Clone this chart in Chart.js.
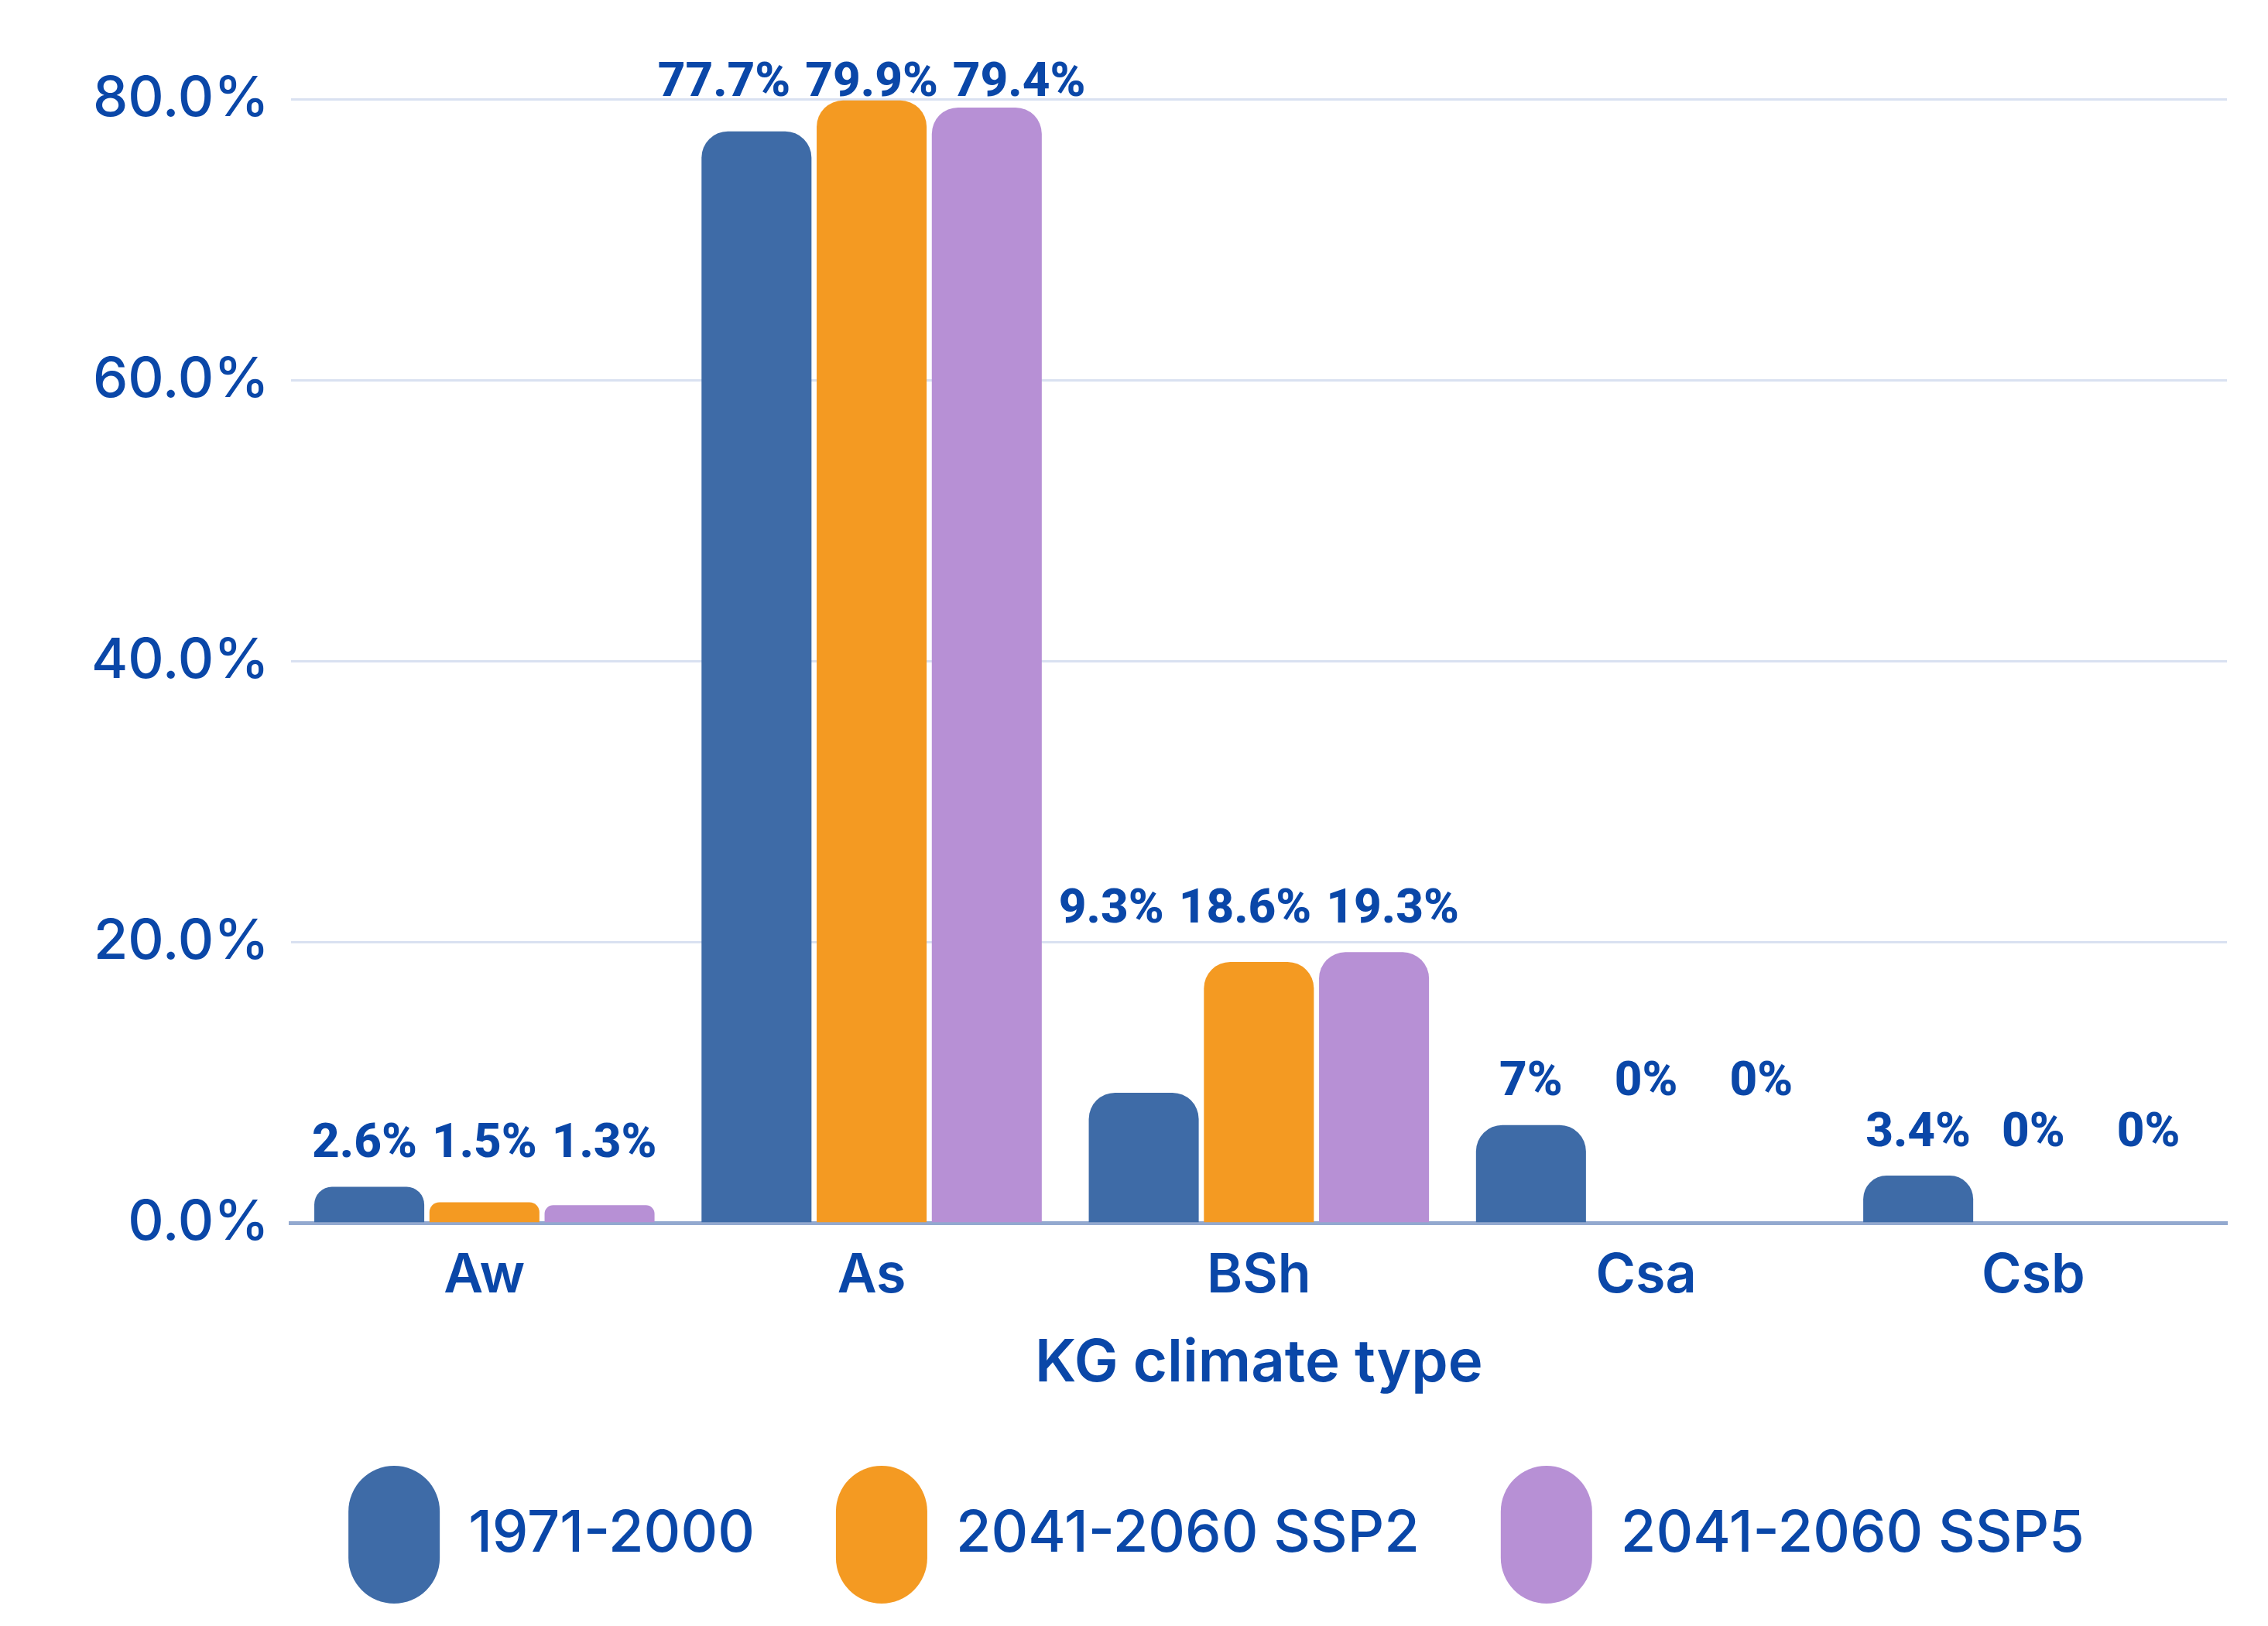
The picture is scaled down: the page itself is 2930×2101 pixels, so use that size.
<!DOCTYPE html>
<html>
<head>
<meta charset="utf-8">
<script src="https://cdn.jsdelivr.net/npm/chart.js@4"></script>
<style>
  html, body { margin: 0; padding: 0; background: #fff; }
  #wrap { width: 2930px; height: 2101px; }
</style>
</head>
<body>
<div id="wrap"><canvas id="kg"></canvas></div>
<script>
const categories = ['Aw', 'As', 'BSh', 'Csa', 'Csb'];
const seriesNames = ['1971-2000', '2041-2060 SSP2', '2041-2060 SSP5'];
const baseline = [2.6, 77.7, 9.3, 7, 3.4];
const ssp2 = [1.5, 79.9, 18.6, 0, 0];
const ssp5 = [1.3, 79.4, 19.3, 0, 0];
const yTicks = [0, 20, 40, 60, 80];

const textBlue = '#0a47a8';
const colors = ['#3e6ba7', '#f49a22', '#b790d5'];

// labels sit above the tallest bar of each group, spread out when they would collide
const groupLabels = {
  id: 'groupLabels',
  afterDatasetsDraw(chart) {
    const ctx = chart.ctx;
    const y = chart.scales.y;
    const gap = 19;
    ctx.save();
    ctx.font = '800 62px Roboto';
    ctx.fillStyle = textBlue;
    ctx.textAlign = 'center';
    ctx.textBaseline = 'middle';
    categories.forEach((c, i) => {
      const sets = chart.data.datasets;
      const max = Math.max(...sets.map(d => d.data[i]));
      const ty = Math.max(y.getPixelForValue(max) - 54, chart.chartArea.top - 20);
      const texts = sets.map(d => d.data[i] + '%');
      const widths = texts.map(t => ctx.measureText(t).width);
      const xs = sets.map((d, j) => chart.getDatasetMeta(j).data[i].x);
      let clash = false;
      for (let j = 1; j < xs.length; j++) {
        if (xs[j] - widths[j] / 2 < xs[j - 1] + widths[j - 1] / 2 + gap) clash = true;
      }
      if (clash) {
        const total = widths.reduce((a, b) => a + b, 0) + gap * (widths.length - 1);
        let left = (xs[0] + xs[xs.length - 1]) / 2 - total / 2;
        widths.forEach((w, j) => { xs[j] = left + w / 2; left += w + gap; });
      }
      texts.forEach((t, j) => ctx.fillText(t, xs[j], ty));
    });
    ctx.restore();
  }
};

// nudge the legend row right and up, as in the source
const legendShift = {
  id: 'legendShift',
  afterLayout(chart) {
    chart.legend.left += 88;
    chart.legend.right += 88;
    chart.legend.top -= 19;
    chart.legend.bottom -= 19;
  }
};

const canvasElem = document.querySelector('#kg');
const data = {
  labels: categories,
  datasets: [baseline, ssp2, ssp5].map((vals, k) => ({
    label: seriesNames[k],
    data: vals,
    backgroundColor: colors[k],
    borderRadius: 34,
    borderSkipped: 'bottom',
    categoryPercentage: 0.892,
    barPercentage: 0.955
  }))
};

const config = {
  type: 'bar',
  data: data,
  plugins: [groupLabels, legendShift],
  options: {
    responsive: true,
    maintainAspectRatio: false,
    animation: false,
    layout: { padding: { left: 90, right: 53, top: 128, bottom: 0 } },
    scales: {
      x: {
        grid: { display: false, drawTicks: false },
        border: { color: '#93a9cf', width: 5 },
        ticks: {
          color: textBlue,
          padding: 33,
          font: { family: 'Inter', size: 70, weight: 600, lineHeight: 1 }
        },
        title: {
          display: true,
          text: 'KG climate type',
          color: textBlue,
          padding: { top: 0, bottom: 0 },
          font: { family: 'Inter', size: 76, weight: 600 }
        }
      },
      y: {
        min: 0,
        max: 80,
        afterBuildTicks: axis => { axis.ticks = yTicks.map(v => ({ value: v })); },
        grid: { color: '#d9e1f1', lineWidth: 3, drawTicks: false },
        border: { display: false },
        ticks: {
          color: textBlue,
          padding: 28,
          font: { family: 'Inter', size: 72, weight: 500 },
          callback: v => v.toFixed(1) + '%'
        }
      }
    },
    plugins: {
      tooltip: { enabled: false },
      legend: {
        display: true,
        position: 'bottom',
        labels: {
          color: textBlue,
          boxWidth: 118,
          boxHeight: 178,
          useBorderRadius: true,
          borderRadius: 59,
          padding: 105,
          font: { family: 'Inter', size: 74, weight: 500 }
        }
      }
    }
  }
};

new Chart(canvasElem, config);
</script>
</body>
</html>
